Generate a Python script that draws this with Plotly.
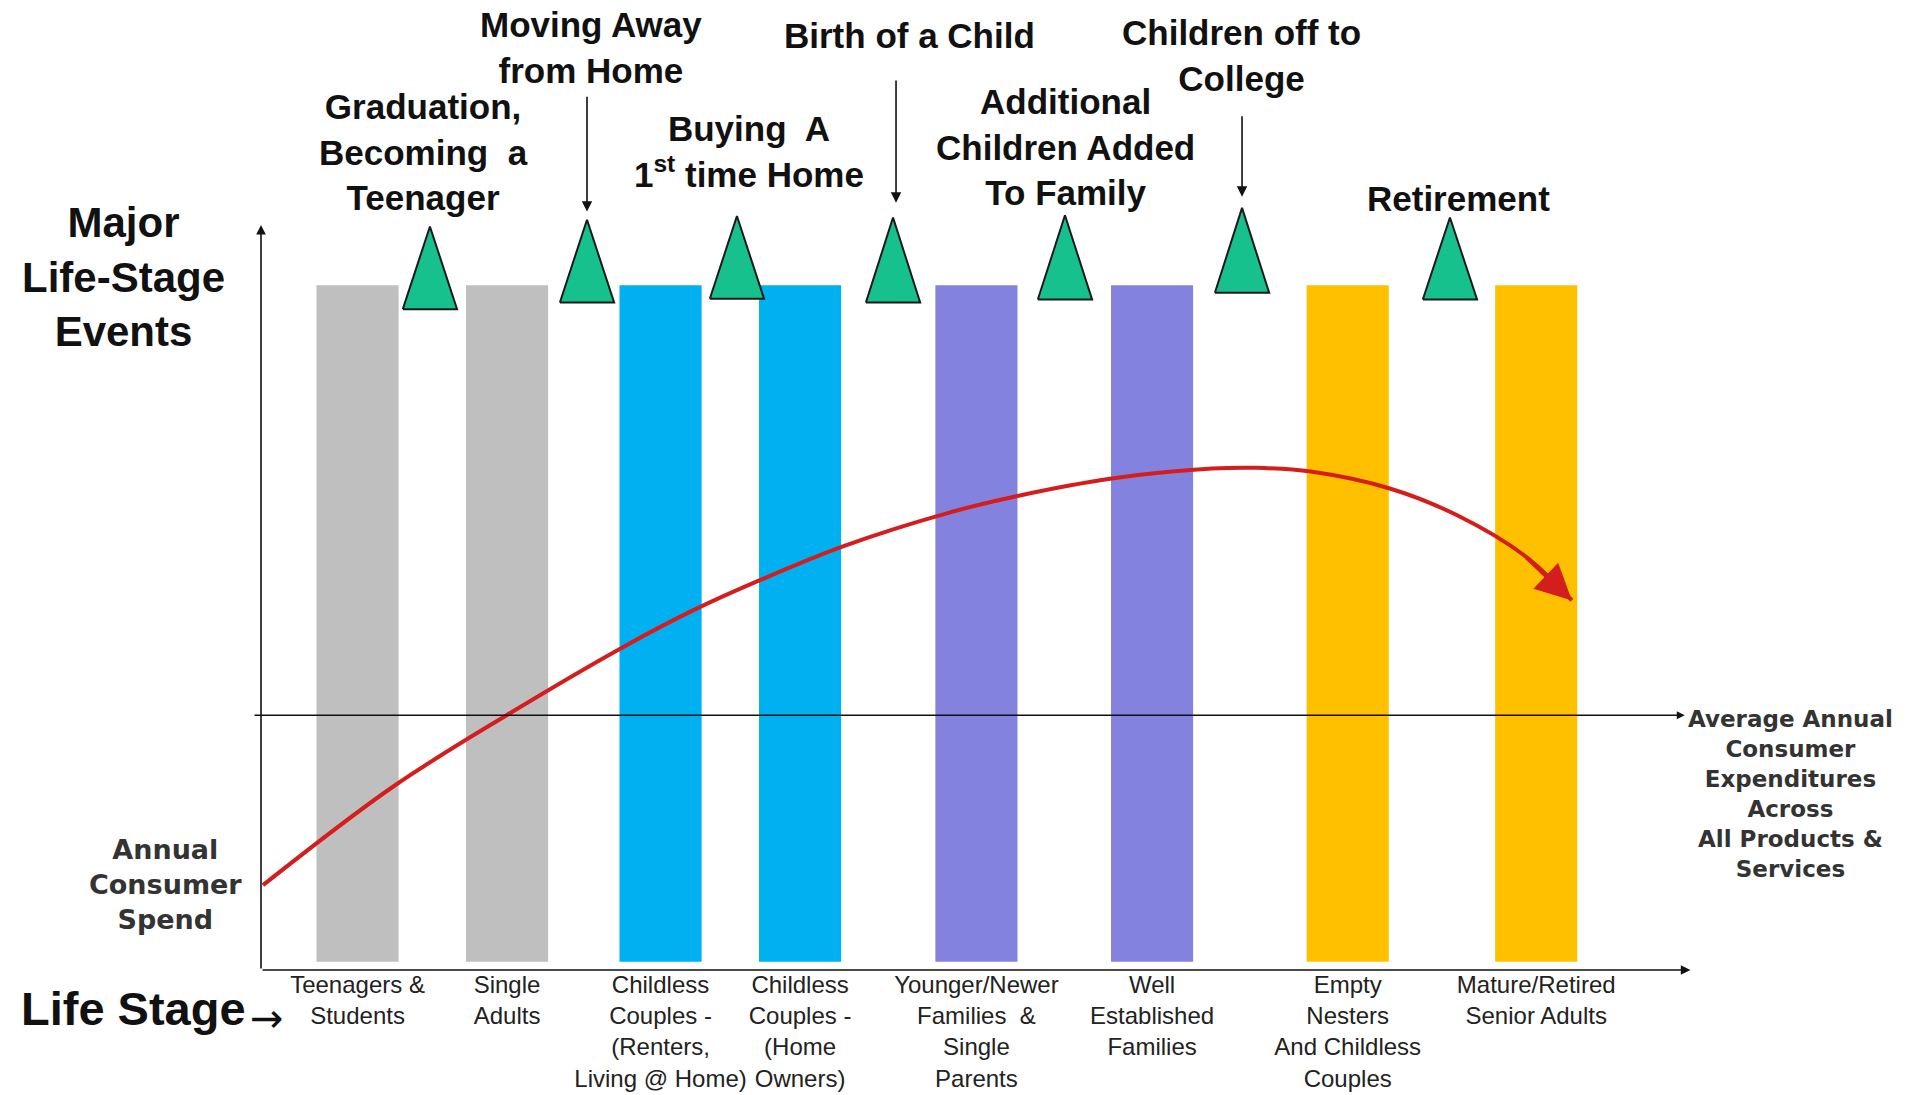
import plotly.graph_objects as go

# ---------------- data ----------------
stage_labels = [
    "Teenagers &<br>Students",
    "Single<br>Adults",
    "Childless<br>Couples -<br>(Renters,<br>Living @ Home)",
    "Childless<br>Couples -<br>(Home<br>Owners)",
    "Younger/Newer<br>Families  &<br>Single<br>Parents",
    "Well<br>Established<br>Families",
    "Empty<br>Nesters<br>And Childless<br>Couples",
    "Mature/Retired<br>Senior Adults",
]
stage_x = [6.76, 17.23, 27.98, 37.75, 50.1, 62.4, 76.1, 89.3]
stage_base = [1.1, 1.1, 1.1, 1.1, 1.1, 1.1, 1.1, 1.1]
stage_top = [91.9, 91.9, 91.9, 91.9, 91.9, 91.9, 91.9, 91.9]

event_labels = [
    "Graduation,<br>Becoming  a<br>Teenager",
    "Moving Away<br>from Home",
    "Buying  A<br>1<sup>st</sup> time Home",
    "Birth of a Child",
    "Additional<br>Children Added<br>To Family",
    "Children off to<br>College",
    "Retirement",
]
event_x = [11.83, 22.83, 33.33, 44.26, 56.3, 68.7, 83.26]

# annual consumer spend curve (arbitrary units)
spend_x = [0.14, 9.24, 17.2, 25.5, 30.5, 34.9, 40.8, 48.2, 52.9, 59.7,
           66.6, 69.7, 73.5, 79.1, 83.8, 88.5, 91.8]
spend_y = [11.4, 24.6, 34.2, 43.5, 48.5, 52.3, 56.9, 61.4, 63.6, 66.0,
           67.3, 67.4, 66.9, 64.6, 61.0, 55.6, 49.6]
avg_level = 34.2

# ---------------- styles / layout helpers ----------------
X_RANGE = [0, 100]
Y_RANGE = [0, 130.2]

stage_colors = ["#BFBFBF", "#BFBFBF", "#00B0F0", "#00B0F0",
                "#8383DF", "#8383DF", "#FFC000", "#FFC000"]
tri_apex = [99.8, 100.7, 101.2, 101.0, 101.3, 102.3, 101.0]
tri_base = [88.7, 89.6, 90.1, 89.6, 90.0, 90.9, 90.0]
tri_half = 1.9
label_pos = [(11.41, 109.8), (23.11, 123.8), (34.17, 109.8), (45.38, 125.5),
             (56.37, 110.5), (68.63, 122.8), (83.89, 103.5)]
# event index -> (arrow start y, arrow end y, arrow x)
down_arrows = {1: (117.4, 101.8, 22.83), 3: (119.6, 103.0, 44.47), 5: (114.8, 103.8, 68.7)}

bold_font = "Liberation Sans, Arial, sans-serif"
wide_font = "DejaVu Sans, Verdana, sans-serif"


def px(u):
    return (u - X_RANGE[0]) / (X_RANGE[1] - X_RANGE[0])


def py(u):
    return (u - Y_RANGE[0]) / (Y_RANGE[1] - Y_RANGE[0])


fig = go.Figure()

fig.add_trace(go.Bar(
    x=stage_x,
    y=[t - b for t, b in zip(stage_top, stage_base)],
    base=stage_base,
    width=5.75,
    marker=dict(color=stage_colors, line=dict(width=0)),
    hoverinfo="skip",
))

for ex, ap, bs in zip(event_x, tri_apex, tri_base):
    fig.add_trace(go.Scatter(
        x=[ex - tri_half, ex, ex + tri_half, ex - tri_half],
        y=[bs, ap, bs, bs],
        mode="lines", fill="toself", fillcolor="#17C18E",
        line=dict(color="#1A1A1A", width=2),
        hoverinfo="skip",
    ))

fig.add_trace(go.Scatter(
    x=spend_x, y=spend_y, mode="lines",
    line=dict(color="#D41E1E", width=4, shape="spline", smoothing=1.0),
    hoverinfo="skip",
))

annotations = []


def arrow(x, y, ax, ay, color="#111111", width=1.6, head=2, size=1.0):
    annotations.append(dict(
        x=x, y=y, ax=ax, ay=ay, xref="x", yref="y", axref="x", ayref="y",
        text="", showarrow=True, arrowhead=head, arrowsize=size,
        arrowwidth=width, arrowcolor=color, standoff=0, startstandoff=0,
    ))


# axes
arrow(0, 100.0, 0, 0, size=1.2)
arrow(100.1, 0, 0, 0, size=1.2)
arrow(99.7, avg_level, -0.56, avg_level)

# curve arrowhead
arrow(spend_x[-1], spend_y[-1], spend_x[-2], spend_y[-2], color="#D41E1E", width=4, head=2, size=1.8)

# event down arrows
for i, (y0, y1, xx) in down_arrows.items():
    arrow(xx, y1, xx, y0, width=1.6, head=2, size=1.3)

# event labels
for txt, (lx, ly) in zip(event_labels, label_pos):
    annotations.append(dict(
        x=lx, y=ly, xref="x", yref="y", text=txt, showarrow=False,
        xanchor="center", yanchor="middle", align="center",
        font=dict(family=bold_font, size=35, color="#111111", weight="bold"),
    ))

annotations += [
    dict(x=px(-9.6), y=py(93.0), xref="paper", yref="paper",
         text="Major<br>Life-Stage<br>Events", showarrow=False,
         xanchor="center", yanchor="middle", align="center",
         font=dict(family=bold_font, size=42, color="#111111", weight="bold")),
    dict(x=px(-6.72), y=py(11.5), xref="paper", yref="paper",
         text="Annual<br>Consumer<br>Spend", showarrow=False,
         xanchor="center", yanchor="middle", align="center",
         font=dict(family=wide_font, size=27, color="#333333", weight="bold")),
    dict(x=px(107.1), y=py(23.6), xref="paper", yref="paper",
         text="Average Annual<br>Consumer<br>Expenditures<br>Across<br>All Products &<br>Services",
         showarrow=False, xanchor="center", yanchor="middle", align="center",
         font=dict(family=wide_font, size=23, color="#333333", weight="bold")),
    dict(x=px(-8.9), y=py(-5.2), xref="paper", yref="paper", text="Life Stage", showarrow=False,
         xanchor="center", yanchor="middle",
         font=dict(family=bold_font, size=47, color="#111111", weight="bold")),
    dict(x=px(0.42), y=py(-6.4), xref="paper", yref="paper", text="→", showarrow=False,
         xanchor="center", yanchor="middle",
         font=dict(family=wide_font, size=40, color="#111111")),
]

fig.update_layout(
    width=1906, height=1095,
    margin=dict(l=261, r=217, t=0, b=125, autoexpand=False),
    paper_bgcolor="white", plot_bgcolor="white",
    showlegend=False,
    annotations=annotations,
    xaxis=dict(range=X_RANGE, tickmode="array", tickvals=stage_x, ticktext=stage_labels,
               tickangle=0, showgrid=False, zeroline=False, showline=False, ticks="",
               automargin=False, ticklabelstandoff=-2,
               tickfont=dict(family=bold_font, size=24, color="#222222"), fixedrange=True),
    yaxis=dict(range=Y_RANGE, visible=False, fixedrange=True, automargin=False),
)

fig.write_html("out.html")
